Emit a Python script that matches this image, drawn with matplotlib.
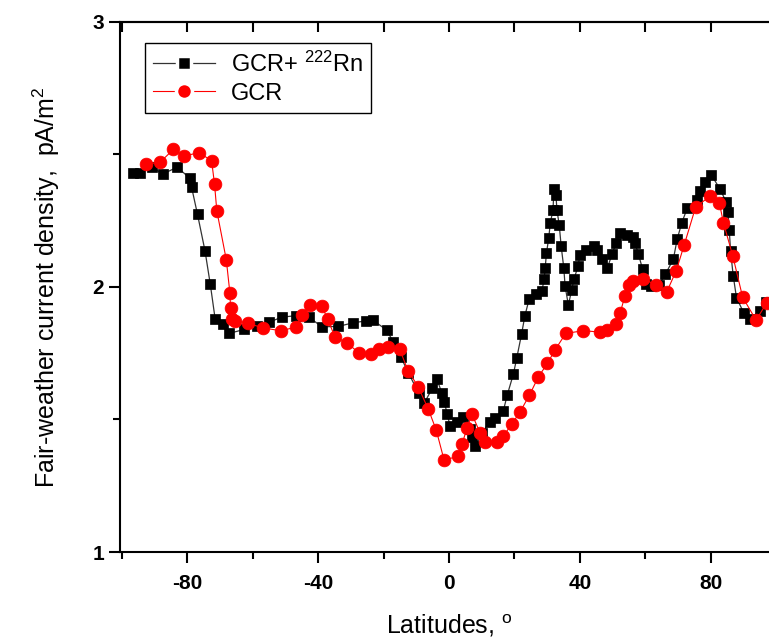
import matplotlib
matplotlib.use("Agg")
import matplotlib.pyplot as plt
from matplotlib.lines import Line2D

plt.rcParams['font.family'] = ['Liberation Sans', 'DejaVu Sans']
plt.rcParams['mathtext.fontset'] = 'custom'
plt.rcParams['mathtext.rm'] = 'Liberation Sans'
plt.rcParams['mathtext.it'] = 'Liberation Sans:italic'
plt.rcParams['mathtext.bf'] = 'Liberation Sans:bold'
plt.rcParams['axes.unicode_minus'] = False

# GCR + 222Rn: latitude (deg) and fair-weather current density (pA/m^2)
lat_rn = [-96.5, -94.5, -90.9, -87.6, -83.1, -79.2, -78.7, -76.9, -74.6, -73.0,
          -71.5, -69.2, -67.2, -62.6, -58.8, -55.0, -51.2, -46.7, -42.8, -38.9,
          -33.9, -29.3, -25.4, -23.3, -19.1, -17.0, -14.7, -12.4, -9.3, -7.6,
          -5.1, -3.7, -2.2, -1.5, -0.5, 0.3, 2.4, 4.3, 6.4, 6.9,
          8.1, 10.2, 12.4, 14.2, 16.6, 17.8, 19.7, 20.7, 22.2, 23.2,
          24.5, 26.5, 28.4, 29.1, 29.4, 29.8, 30.5, 31.0, 31.8, 32.1,
          32.7, 33.0, 33.7, 34.3, 35.1, 35.5, 36.5, 37.5, 38.2, 39.5,
          40.0, 42.0, 44.3, 45.4, 46.7, 48.4, 49.9, 51.1, 52.3, 54.5,
          56.4, 56.9, 57.9, 59.2, 60.1, 61.7, 64.2, 66.2, 68.6, 69.8,
          71.2, 72.9, 75.8, 76.9, 78.3, 80.2, 82.9, 84.7, 85.3, 85.7,
          86.1, 86.9, 87.9, 90.1, 92.1, 95.0, 96.8]
j_rn = [2.431, 2.431, 2.454, 2.426, 2.452, 2.410, 2.376, 2.274, 2.136, 2.011,
        1.879, 1.859, 1.825, 1.840, 1.853, 1.867, 1.886, 1.892, 1.886, 1.850,
        1.851, 1.865, 1.872, 1.875, 1.838, 1.792, 1.735, 1.676, 1.600, 1.561,
        1.618, 1.652, 1.601, 1.567, 1.520, 1.475, 1.492, 1.508, 1.463, 1.434,
        1.400, 1.450, 1.492, 1.505, 1.532, 1.592, 1.672, 1.731, 1.823, 1.891,
        1.954, 1.972, 1.985, 2.029, 2.071, 2.127, 2.186, 2.243, 2.291, 2.369,
        2.347, 2.291, 2.234, 2.154, 2.072, 2.003, 1.932, 1.988, 2.029, 2.080,
        2.121, 2.138, 2.154, 2.140, 2.105, 2.071, 2.125, 2.166, 2.203, 2.196,
        2.189, 2.165, 2.125, 2.067, 2.012, 2.002, 2.008, 2.049, 2.105, 2.182,
        2.243, 2.299, 2.328, 2.362, 2.395, 2.423, 2.369, 2.322, 2.284, 2.215,
        2.135, 2.043, 1.960, 1.903, 1.880, 1.911, 1.945]

# GCR only
lat_gcr = [-92.7, -88.4, -84.3, -81.0, -76.5, -72.6, -71.7, -71.0, -68.1, -67.0,
           -66.8, -66.5, -65.4, -61.4, -57.0, -51.5, -46.9, -44.9, -42.5, -38.9,
           -37.1, -34.9, -31.1, -27.4, -23.7, -21.3, -18.5, -15.1, -12.5, -9.4,
           -6.3, -3.9, -1.5, 2.8, 4.0, 5.5, 7.0, 9.5, 11.0, 14.8,
           16.6, 19.2, 21.7, 24.6, 27.3, 30.1, 32.4, 35.7, 41.1, 46.2,
           48.2, 51.0, 52.3, 53.8, 55.0, 56.2, 59.2, 63.3, 66.6, 69.5,
           71.9, 75.4, 79.8, 82.7, 83.9, 86.8, 89.8, 93.9, 97.2]
j_gcr = [2.464, 2.470, 2.519, 2.494, 2.507, 2.477, 2.389, 2.288, 2.103, 1.978,
         1.920, 1.878, 1.873, 1.863, 1.846, 1.835, 1.848, 1.894, 1.932, 1.929,
         1.878, 1.813, 1.788, 1.750, 1.747, 1.765, 1.772, 1.765, 1.684, 1.623,
         1.538, 1.460, 1.347, 1.361, 1.408, 1.467, 1.520, 1.450, 1.415, 1.414,
         1.437, 1.483, 1.528, 1.592, 1.660, 1.712, 1.762, 1.825, 1.835, 1.830,
         1.836, 1.860, 1.901, 1.966, 2.006, 2.024, 2.032, 2.008, 1.982, 2.062,
         2.158, 2.301, 2.343, 2.316, 2.243, 2.116, 1.961, 1.875, 1.941]

fig = plt.figure(figsize=(7.69, 6.44), dpi=100)
ax = fig.add_axes([120 / 769, 92 / 644, 658 / 769, 530 / 644])

ax.plot(lat_rn, j_rn, color='#333333', lw=0.9, marker='s', ms=7.8,
        mfc='black', mec='black', mew=0.5, zorder=3)
ax.plot(lat_gcr, j_gcr, color='red', lw=0.8, marker='o', ms=9.2,
        mfc='red', mec='red', mew=0.5, zorder=4)

ax.set_xlim(-100.6, 100.6)
ax.set_ylim(1, 3)
ax.set_xticks([-80, -40, 0, 40, 80])
ax.set_xticks([-100, -60, -20, 20, 60, 100], minor=True)
ax.set_yticks([1, 2, 3])
ax.set_yticks([1.5, 2.5], minor=True)
ax.tick_params(axis='both', which='major', direction='out', length=8, width=1.5,
               labelsize=15)
ax.tick_params(axis='both', which='minor', direction='out', length=5, width=1.5)
ax.tick_params(axis='x', pad=8)
for lbl in ax.get_xticklabels() + ax.get_yticklabels():
    lbl.set_fontweight('bold')
for sp in ax.spines.values():
    sp.set_linewidth(1.5)

# inward ticks along the top edge
top = ax.secondary_xaxis('top')
top.set_xticks([-100, -80, -60, -40, -20, 0, 20, 40, 60, 80, 100])
top.tick_params(direction='in', length=7, width=1.5, labeltop=False)
top.spines['top'].set_linewidth(1.5)

ax.set_xlabel(r'Latitudes, $^{\mathrm{o}}$', fontsize=18, labelpad=14)
ax.set_ylabel(r'Fair-weather current density,  pA/m$^{2}$', fontsize=18,
              labelpad=22)

handles = [
    Line2D([], [], color='#333333', lw=0.9, marker='s', ms=10.5, mfc='black',
           mec='white', mew=2.5),
    Line2D([], [], color='red', lw=0.8, marker='o', ms=11.5, mfc='red',
           mec='white', mew=2.5),
]
leg = ax.legend(handles, [r'GCR+ $^{222}$Rn', 'GCR'], loc='upper left',
                bbox_to_anchor=(0.038, 0.96), borderaxespad=0, fontsize=17,
                fancybox=False, framealpha=1, edgecolor='black',
                handlelength=2.6, handletextpad=0.7, borderpad=0.35,
                labelspacing=0.25)
leg.get_frame().set_linewidth(1.0)

fig.savefig('out.png', dpi=100)
